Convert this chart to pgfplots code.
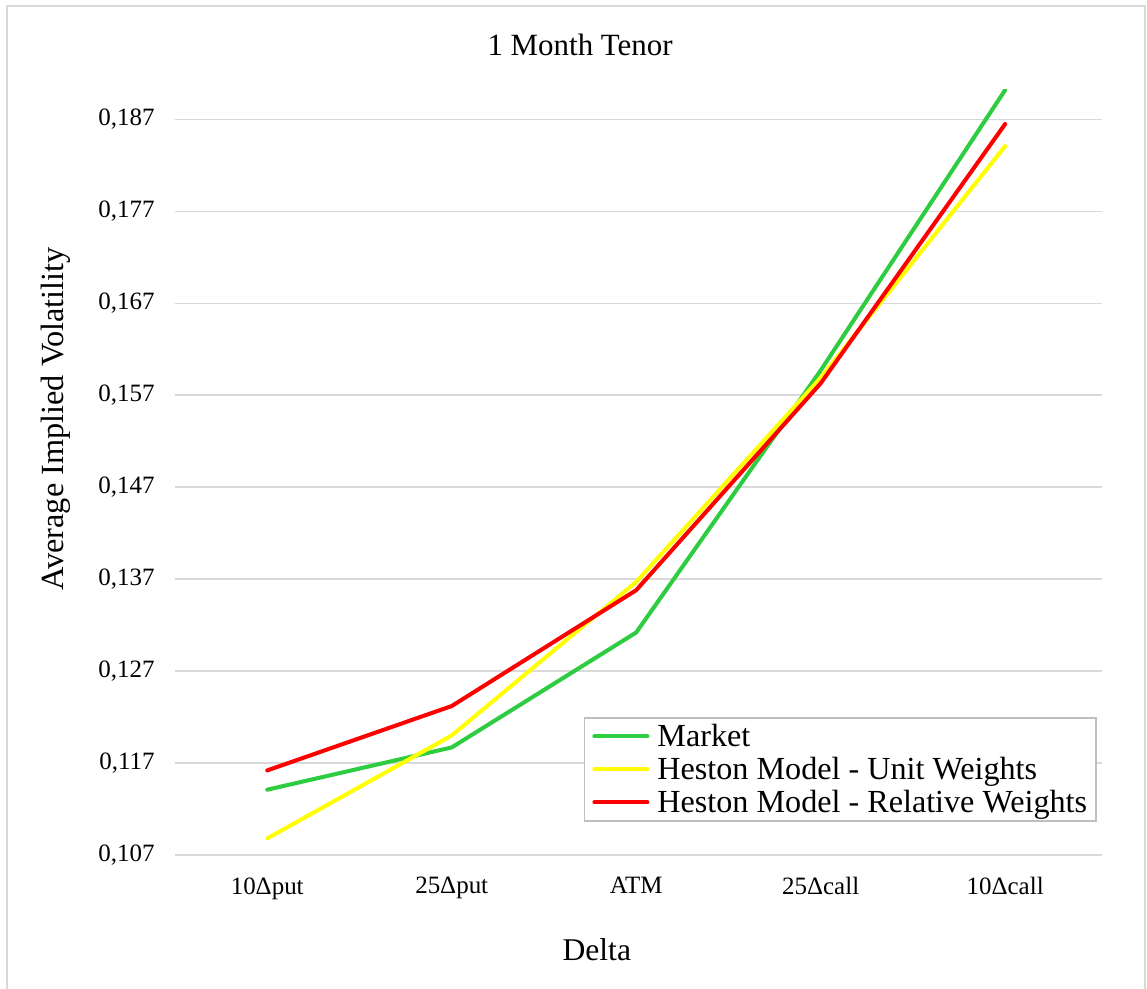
\documentclass[border=0pt]{standalone}
\usepackage{fontspec}
\setmainfont{Liberation Serif}
\usepackage{pgfplots}
\pgfplotsset{compat=1.18}

\definecolor{mktgreen}{RGB}{46,204,64}
\definecolor{unityellow}{RGB}{255,255,0}
\definecolor{relred}{RGB}{255,0,0}
\definecolor{gridgray}{RGB}{217,217,217}
\definecolor{framegray}{RGB}{217,217,217}
\definecolor{legendgray}{RGB}{191,191,191}

\begin{document}
\begin{tikzpicture}
\useasboundingbox (-1.75cm,-1.33cm) rectangle (9.72cm,8.55cm);
\draw[framegray, line width=0.6pt] (-1.68cm,-1.40cm) -- (-1.68cm,8.49cm) -- (9.70cm,8.49cm) -- (9.70cm,-1.40cm);
\begin{axis}[
  at={(0cm,0cm)}, anchor=south west,
  scale only axis,
  width=9.27cm, height=7.65cm,
  xmin=-0.5, xmax=4.525,
  ymin=0.107, ymax=0.1902,
  axis line style={draw=none},
  major tick length=0pt,
  xtick={0,1,2,3,4},
  xticklabels={10Δput,25Δput,ATM,25Δcall,10Δcall},
  ytick={0.107,0.117,0.127,0.137,0.147,0.157,0.167,0.177,0.187},
  yticklabels={{0,107},{0,117},{0,127},{0,137},{0,147},{0,157},{0,167},{0,177},{0,187}},
  ymajorgrids,
  grid style={gridgray, line width=0.45pt},
  tick label style={font=\fontsize{7.1}{8}\selectfont, text=black},
  xticklabel style={yshift=-0.10cm},
  yticklabel style={xshift=-0.08cm},
  title={1 Month Tenor},
  title style={font=\fontsize{8.8}{10}\selectfont, at={(0.437,1.032)}, anchor=center},
  xlabel={Delta},
  xlabel style={font=\fontsize{9}{10}\selectfont, at={(0.455,-0.124)}, anchor=center},
  ylabel={Average Implied Volatility},
  ylabel style={font=\fontsize{9.2}{10}\selectfont, at={(-0.129,0.570)}, anchor=center},
  clip=true,
  legend cell align=left,
  legend image code/.code={\draw[#1] (0cm,0cm) -- (0.53cm,0cm);},
  legend style={
    at={(0.9946,0.1804)}, anchor=north east,
    draw=legendgray, line width=0.5pt,
    font=\fontsize{9.15}{9.15}\selectfont,
    nodes={text height=0.26cm, text depth=0.05cm, inner sep=0.01cm},
    inner xsep=0.08cm, inner ysep=0.02cm,
    /tikz/every odd column/.append style={column sep=0.07cm},
  },
  every axis plot/.append style={line width=1.15pt, line join=round, line cap=round},
]
\addplot[mktgreen] coordinates {(0,0.1141) (1,0.1187) (2,0.1312) (3,0.1597) (4,0.1902)};
\addlegendentry{Market}
\addplot[unityellow] coordinates {(0,0.1088) (1,0.1200) (2,0.1367) (3,0.1589) (4,0.1841)};
\addlegendentry{Heston Model - Unit Weights}
\addplot[relred] coordinates {(0,0.1162) (1,0.1232) (2,0.1358) (3,0.1583) (4,0.1865)};
\addlegendentry{Heston Model - Relative Weights}
\end{axis}
\end{tikzpicture}
\end{document}
